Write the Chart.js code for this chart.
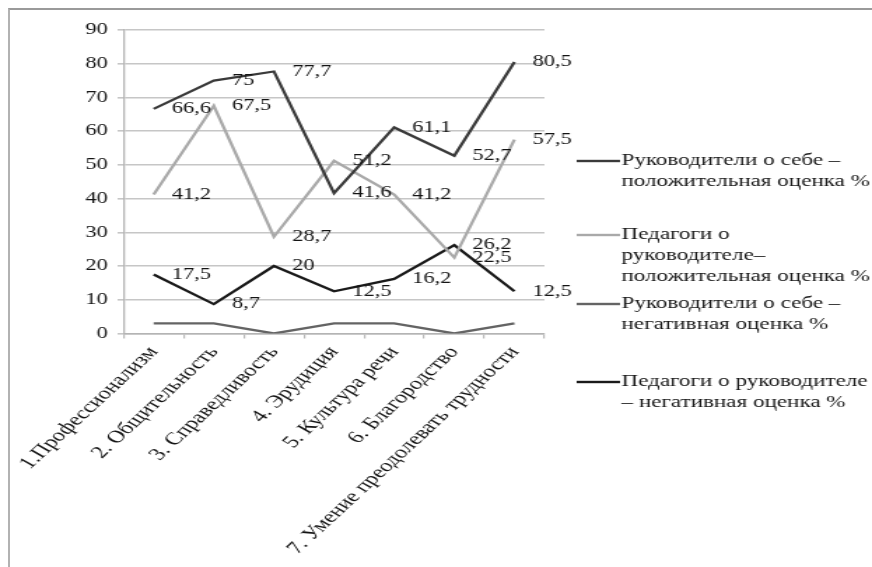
<!DOCTYPE html>
<html>
<head>
<meta charset="utf-8">
<script src="https://cdn.jsdelivr.net/npm/chart.js@4.4.1/dist/chart.umd.min.js"></script>
<style>
  html, body { margin: 0; padding: 0; background: #ffffff; }
  body { width: 872px; height: 567px; position: relative; overflow: hidden; }
  #frame {
    position: absolute; left: 8px; top: 8px; width: 880px; height: 580px;
    border-top: 2px solid #9a9a9a; border-left: 2px solid #b2b2b2;
  }
  #chart { position: absolute; left: 0; top: 0; }
</style>
</head>
<body>
<div id="frame"></div>
<!-- the drawing surface is rendered narrow and widened on screen -->
<canvas id="chart" width="623" height="567" style="width:872px;height:567px;"></canvas>
<script>
// Qualities of a school head, rated by heads themselves and by teachers (%)
const categories = [
  '1.Профессионализм',
  '2. Общительность',
  '3. Справедливость',
  '4. Эрудиция',
  '5. Культура речи',
  '6. Благородство',
  '7. Умение преодолевать трудности'
];

const headsSelfPositive    = [66.6, 75, 77.7, 41.6, 61.1, 52.7, 80.5];
const teachersPositive     = [41.2, 67.5, 28.7, 51.2, 41.2, 22.5, 57.5];
const headsSelfNegative    = [3, 3, 0, 3, 3, 0, 3];
const teachersNegative     = [17.5, 8.7, 20, 12.5, 16.2, 26.2, 12.5];

const seriesNames = [
  ['Руководители о себе –', 'положительная оценка %'],
  ['Педагоги о', 'руководителе–', 'положительная оценка %'],
  ['Руководители о себе –', 'негативная оценка %'],
  ['Педагоги о руководителе', '– негативная оценка %']
];

const yTicks = [0, 10, 20, 30, 40, 50, 60, 70, 80, 90];

const FONT = '"Liberation Serif", "Times New Roman", serif';
const TEXT = '#141414';

const fmt = v => String(v).replace('.', ',');

// value captions to the right of each point
const valueLabels = {
  id: 'valueLabels',
  afterDatasetsDraw(chart) {
    const ctx = chart.ctx;
    ctx.save();
    ctx.font = '16px ' + FONT;
    ctx.fillStyle = TEXT;
    ctx.textAlign = 'left';
    ctx.textBaseline = 'middle';
    chart.data.datasets.forEach((ds, i) => {
      if (!ds.showValues) return;
      chart.getDatasetMeta(i).data.forEach((pt, j) => {
        ctx.fillText(fmt(ds.data[j]), pt.x + 13, pt.y);
      });
    });
    ctx.restore();
  }
};

// legend at the right: line sample followed by multi-line series name
const sideLegend = {
  id: 'sideLegend',
  afterDraw(chart, args, opts) {
    const ctx = chart.ctx;
    const x0 = chart.chartArea.right + opts.offset;
    ctx.save();
    ctx.font = '16.5px ' + FONT;
    ctx.fillStyle = TEXT;
    ctx.textAlign = 'left';
    ctx.textBaseline = 'middle';
    chart.data.datasets.forEach((ds, i) => {
      const y = opts.rows[i];
      ctx.strokeStyle = ds.borderColor;
      ctx.lineWidth = 2.4;
      ctx.beginPath();
      ctx.moveTo(x0, y);
      ctx.lineTo(x0 + opts.sample, y);
      ctx.stroke();
      seriesNames[i].forEach((line, k) => {
        ctx.fillText(line, x0 + opts.sample + opts.gap, y + k * opts.lineHeight);
      });
    });
    ctx.restore();
  }
};

const makeSeries = (idx, data, color, showValues) => ({
  label: seriesNames[idx].join(' '),
  data,
  borderColor: color,
  backgroundColor: color,
  borderWidth: 2.3,
  pointRadius: 0,
  tension: 0,
  fill: false,
  showValues
});

new Chart(document.getElementById('chart'), {
  type: 'line',
  data: {
    labels: categories,
    datasets: [
      makeSeries(0, headsSelfPositive, '#3a3a3a', true),
      makeSeries(1, teachersPositive, '#a9a9a9', true),
      makeSeries(2, headsSelfNegative, '#646464', false),
      makeSeries(3, teachersNegative, '#1a1a1a', true)
    ]
  },
  options: {
    responsive: false,
    animation: false,
    events: [],
    layout: { padding: { left: 54, right: 234, top: 30, bottom: 4.5 } },
    plugins: {
      legend: { display: false },
      tooltip: { enabled: false },
      sideLegend: { offset: 23, sample: 31, gap: 1, lineHeight: 21, rows: [161, 235, 304, 382] }
    },
    scales: {
      x: {
        offset: true,
        afterFit: axis => { axis.paddingLeft = 0; axis.paddingRight = 0; },
        grid: {
          display: true, drawOnChartArea: false, drawTicks: true,
          tickLength: 5, color: '#b8b8b8', lineWidth: 1.2, offset: true
        },
        border: { display: true, color: '#b4b4b4', width: 1.6 },
        ticks: {
          minRotation: 52, maxRotation: 52, autoSkip: false, padding: 4,
          color: TEXT, font: { family: FONT, size: 17.5 }
        }
      },
      y: {
        min: 0, max: 90,
        afterBuildTicks: axis => { axis.ticks = yTicks.map(v => ({ value: v })); },
        grid: { color: '#c6c6c6', lineWidth: 1.6, tickLength: 4.3, drawTicks: true },
        border: { display: true, color: '#b4b4b4', width: 1.3 },
        ticks: {
          padding: 7, color: TEXT, font: { family: FONT, size: 16 }
        }
      }
    }
  },
  plugins: [valueLabels, sideLegend]
});
</script>
</body>
</html>
